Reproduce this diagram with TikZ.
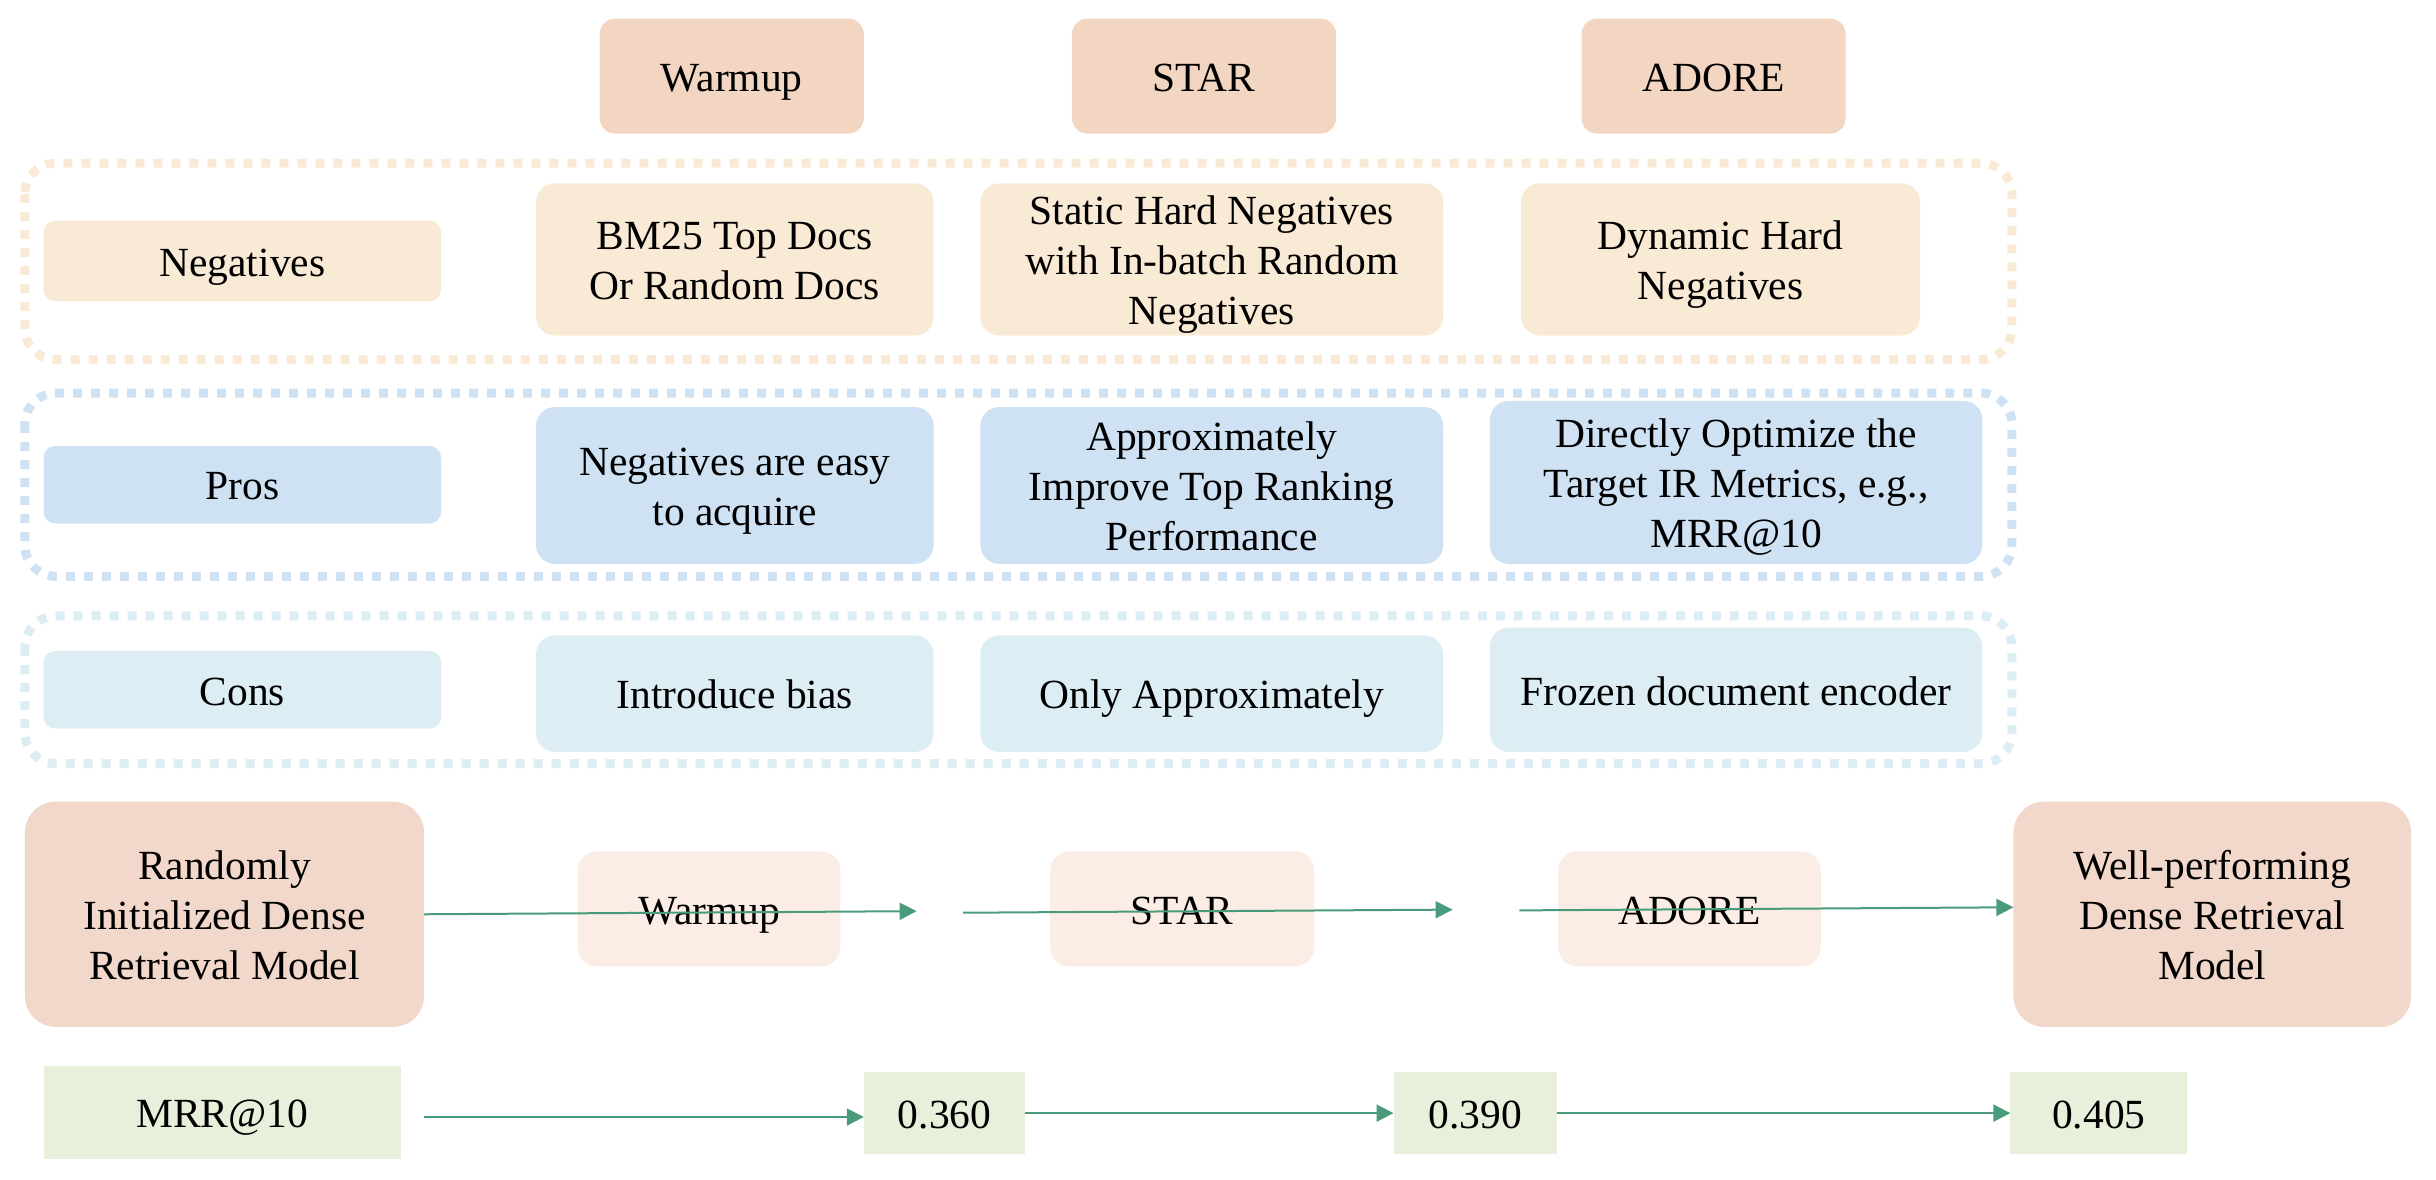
\documentclass[tikz,border=0pt]{standalone}
\usepackage{fontspec}
\setmainfont{Liberation Serif}
\usetikzlibrary{arrows.meta}
\definecolor{headc}{HTML}{F2D6C1}
\definecolor{negc}{HTML}{F9EAD6}
\definecolor{prosc}{HTML}{CFE2F3}
\definecolor{consc}{HTML}{DCEEF4}
\definecolor{bigc}{HTML}{F2D7CB}
\definecolor{lightc}{HTML}{FBEDE5}
\definecolor{mrrc}{HTML}{E8F0DB}
\definecolor{arrc}{HTML}{4A9B7B}
\newcommand\bx[7]{\node[#6, minimum width={(#4-#2)*0.015536cm}, minimum height={(#5-#3)*0.015536cm}] (#1) at ({(#2+#4)/2},{(#3+#5)/2}) {\raisebox{-1.5pt}[\height][\depth]{\begin{tabular}{@{}c@{}}#7\end{tabular}}};}
\begin{document}
\begin{tikzpicture}[x=0.015536cm,y=-0.015536cm,
  base/.style={inner sep=0pt, outer sep=0pt, font=\fontsize{11.8pt}{14.2pt}\selectfont},
  head/.style={base, fill=headc, rounded corners=0.155cm},
  negbox/.style={base, fill=negc, rounded corners=0.19cm},
  neglab/.style={base, fill=negc, rounded corners=0.12cm},
  prosbox/.style={base, fill=prosc, rounded corners=0.19cm},
  proslab/.style={base, fill=prosc, rounded corners=0.12cm},
  consbox/.style={base, fill=consc, rounded corners=0.19cm},
  conslab/.style={base, fill=consc, rounded corners=0.12cm},
  big/.style={base, fill=bigc, rounded corners=0.31cm},
  light/.style={base, fill=lightc, rounded corners=0.19cm},
  mrr/.style={base, fill=mrrc},
  grp/.style={line width=0.09cm, dash pattern=on 0.09cm off 0.09cm, rounded corners=0.31cm},
  arr/.style={draw=arrc, line width=0.02cm, -{Triangle[length=0.17cm,width=0.17cm]}}
]
\useasboundingbox (0,0) rectangle (1568,759.5);
% header
\bx{hw}{386}{12}{556}{86}{head}{Warmup}
\bx{hs}{690}{12}{860}{86}{head}{STAR}
\bx{ha}{1018}{12}{1188}{86}{head}{ADORE}
% groups
\draw[grp, draw=negc] (16,105) rectangle (1295,231.5);
\draw[grp, draw=prosc] (16,253) rectangle (1295,371);
\draw[grp, draw=consc] (16,396.5) rectangle (1295,491.5);
% negatives
\bx{nl}{28}{142}{284}{194}{neglab}{Negatives}
\bx{nw}{345}{118}{601}{216}{negbox}{BM25 Top Docs\\Or Random Docs}
\bx{ns}{631}{118}{929}{216}{negbox}{Static Hard Negatives\\with In-batch Random\\Negatives}
\bx{na}{979}{118}{1236}{216}{negbox}{Dynamic Hard\\Negatives}
% pros
\bx{pl}{28}{287}{284}{337}{proslab}{Pros}
\bx{pw}{345}{262}{601}{363}{prosbox}{Negatives are easy\\to acquire}
\bx{ps}{631}{262}{929}{363}{prosbox}{Approximately\\Improve Top Ranking\\Performance}
\bx{pa}{959}{258}{1276}{363}{prosbox}{Directly Optimize the\\Target IR Metrics, e.g.,\\MRR@10}
% cons
\bx{cl}{28}{419}{284}{469}{conslab}{Cons}
\bx{cw}{345}{409}{601}{484}{consbox}{Introduce bias}
\bx{cs}{631}{409}{929}{484}{consbox}{Only Approximately}
\bx{ca}{959}{404}{1276}{484}{consbox}{Frozen document encoder}
% pipeline
\bx{rand}{16}{516}{273}{661}{big}{Randomly\\Initialized Dense\\Retrieval Model}
\bx{lw}{372}{548}{541}{622}{light}{Warmup}
\bx{ls}{676}{548}{846}{622}{light}{STAR}
\bx{la}{1003}{548}{1172}{622}{light}{ADORE}
\bx{well}{1296}{516}{1552}{661}{big}{Well-performing\\Dense Retrieval\\Model}
\coordinate (a1e) at (590,586.5);
\coordinate (a2s) at (620,587.5);
\coordinate (a2e) at (935,585.5);
\coordinate (a3s) at (978,586);
\coordinate (a3e) at (1296,584);
\draw[arr] (rand.east) -- (a1e);
\draw[arr] (a2s) -- (a2e);
\draw[arr] (a3s) -- (a3e);
% MRR row
\bx{m0}{28}{686}{258}{746}{mrr}{MRR@10}
\bx{m1}{556}{690}{660}{743}{mrr}{0.360}
\bx{m2}{897}{690}{1002}{743}{mrr}{0.390}
\bx{m3}{1294}{690}{1408}{743}{mrr}{0.405}
\coordinate (b1s) at (273,719);
\draw[arr] (b1s) -- (b1s -| m1.west);
\draw[arr] (m1.east) -- (m2.west);
\draw[arr] (m2.east) -- (m3.west);
\end{tikzpicture}
\end{document}
